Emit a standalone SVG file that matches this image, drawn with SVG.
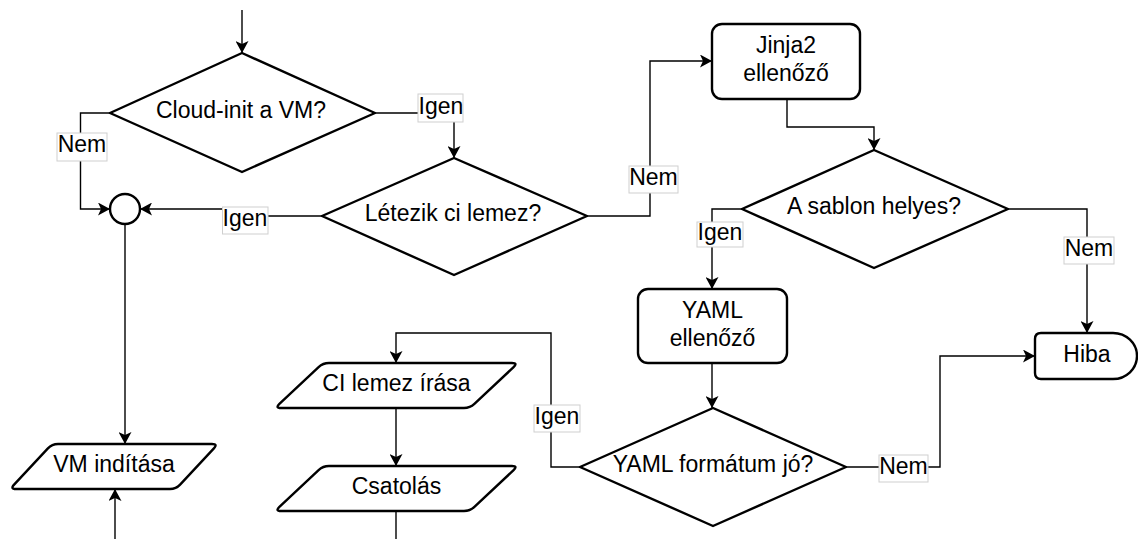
<svg xmlns="http://www.w3.org/2000/svg" width="1138" height="539" viewBox="0 0 1138 539">
<style>
.node{fill:#fff;stroke:#000;stroke-width:2.4;stroke-linejoin:round}
.edge{fill:none;stroke:#000;stroke-width:1.4}
.arr{marker-end:url(#ah)}
.t{font-family:"Liberation Sans",Arial,sans-serif;font-size:23px;fill:#000;text-anchor:middle}
.lb{fill:#fff;stroke:#cfcfcf;stroke-width:1}
</style>
<defs>
<marker id="ah" markerUnits="userSpaceOnUse" markerWidth="13" markerHeight="13" refX="12" refY="6.5" orient="auto">
<path d="M0,0 L12,6.5 L0,13 L3,6.5 Z" fill="#000"/>
</marker>
</defs>
<rect width="1138" height="539" fill="#fff"/>
<g id="connectors">
<path class="edge arr" d="M242,10 V53"/>
<path class="edge arr" d="M110,113 H80.5 V209 H110"/>
<path class="edge arr" d="M375,113 H454 V158"/>
<path class="edge arr" d="M322,216 H245 V209 H140"/>
<path class="edge arr" d="M587,216 H650 V61 H712"/>
<path class="edge arr" d="M787,99 V127 H874 V150"/>
<path class="edge arr" d="M742,209 H712 V289"/>
<path class="edge arr" d="M1008,209 H1087 V333"/>
<path class="edge arr" d="M712,363 V408"/>
<path class="edge arr" d="M846,467 H940 V356 H1035"/>
<path class="edge arr" d="M580,467 H551 V333 H396 V363"/>
<path class="edge arr" d="M396,408 V466"/>
<path class="edge" d="M396,511 V539"/>
<path class="edge arr" d="M125,224 V444"/>
<path class="edge arr" d="M115,539 V489"/>
<g id="labels">
<rect class="lb" x="57" y="133" width="50" height="28"/><text class="t" x="82" y="152">Nem</text>
<rect class="lb" x="418" y="94" width="45" height="28"/><text class="t" x="441" y="113.5">Igen</text>
<rect class="lb" x="222.5" y="207" width="45.5" height="27"/><text class="t" x="245" y="226">Igen</text>
<rect class="lb" x="629" y="166" width="49" height="27"/><text class="t" x="653.5" y="185">Nem</text>
<rect class="lb" x="697" y="222" width="46" height="25"/><text class="t" x="720" y="240">Igen</text>
<rect class="lb" x="1064" y="237" width="50" height="27"/><text class="t" x="1089" y="256">Nem</text>
<rect class="lb" x="534" y="405" width="46" height="27"/><text class="t" x="557" y="424">Igen</text>
<rect class="lb" x="879" y="455" width="49" height="27"/><text class="t" x="903.5" y="474">Nem</text>
</g>
</g>
<g id="d-cloudinit"><polygon class="node" points="110,113 242,53 375,113 242,172"/><text class="t" x="241" y="118">Cloud-init a VM?</text></g>
<g id="merge"><circle class="node" cx="125" cy="209" r="15"/></g>
<g id="d-letezik"><polygon class="node" points="322,216 454,158 587,216 454,275"/><text class="t" x="453" y="221">Létezik ci lemez?</text></g>
<g id="jinja2"><rect class="node" x="712" y="24" width="148" height="75" rx="10"/><text class="t" x="786" y="53">Jinja2</text><text class="t" x="786" y="81">ellenőző</text></g>
<g id="d-sablon"><polygon class="node" points="742,209 874,150 1008,209 874,268"/><text class="t" x="874" y="213.5">A sablon helyes?</text></g>
<g id="yaml"><rect class="node" x="638" y="289" width="149" height="74" rx="10"/><text class="t" x="712.5" y="318">YAML</text><text class="t" x="712.5" y="346">ellenőző</text></g>
<g id="d-yaml"><polygon class="node" points="580,467 713,408 846,467 713,526"/><text class="t" x="713" y="472">YAML formátum jó?</text></g>
<g id="hiba"><path class="node" d="M1041,333 H1113 A24,23 0 0 1 1113,379 H1041 Q1035,379 1035,373 V339 Q1035,333 1041,333 Z"/><text class="t" x="1087" y="361.5">Hiba</text></g>
<g id="ci-iras"><path class="node" d="M329,363 H512 Q518,363 513.6,367.1 L474.4,403.9 Q470,408 464,408 H281 Q275,408 279.4,403.9 L318.6,367.1 Q323,363 329,363 Z"/><text class="t" x="396.5" y="391">CI lemez írása</text></g>
<g id="csatolas"><path class="node" d="M329,466 H512 Q518,466 513.6,470.1 L474.4,506.9 Q470,511 464,511 H281 Q275,511 279.4,506.9 L318.6,470.1 Q323,466 329,466 Z"/><text class="t" x="396.5" y="494">Csatolás</text></g>
<g id="vm-inditasa"><path class="node" d="M58,444 H212 Q218,444 213.9,448.4 L180.1,484.6 Q176,489 170,489 H16 Q10,489 14.1,484.6 L47.9,448.4 Q52,444 58,444 Z"/><text class="t" x="114" y="471.5">VM indítása</text></g>
</svg>
